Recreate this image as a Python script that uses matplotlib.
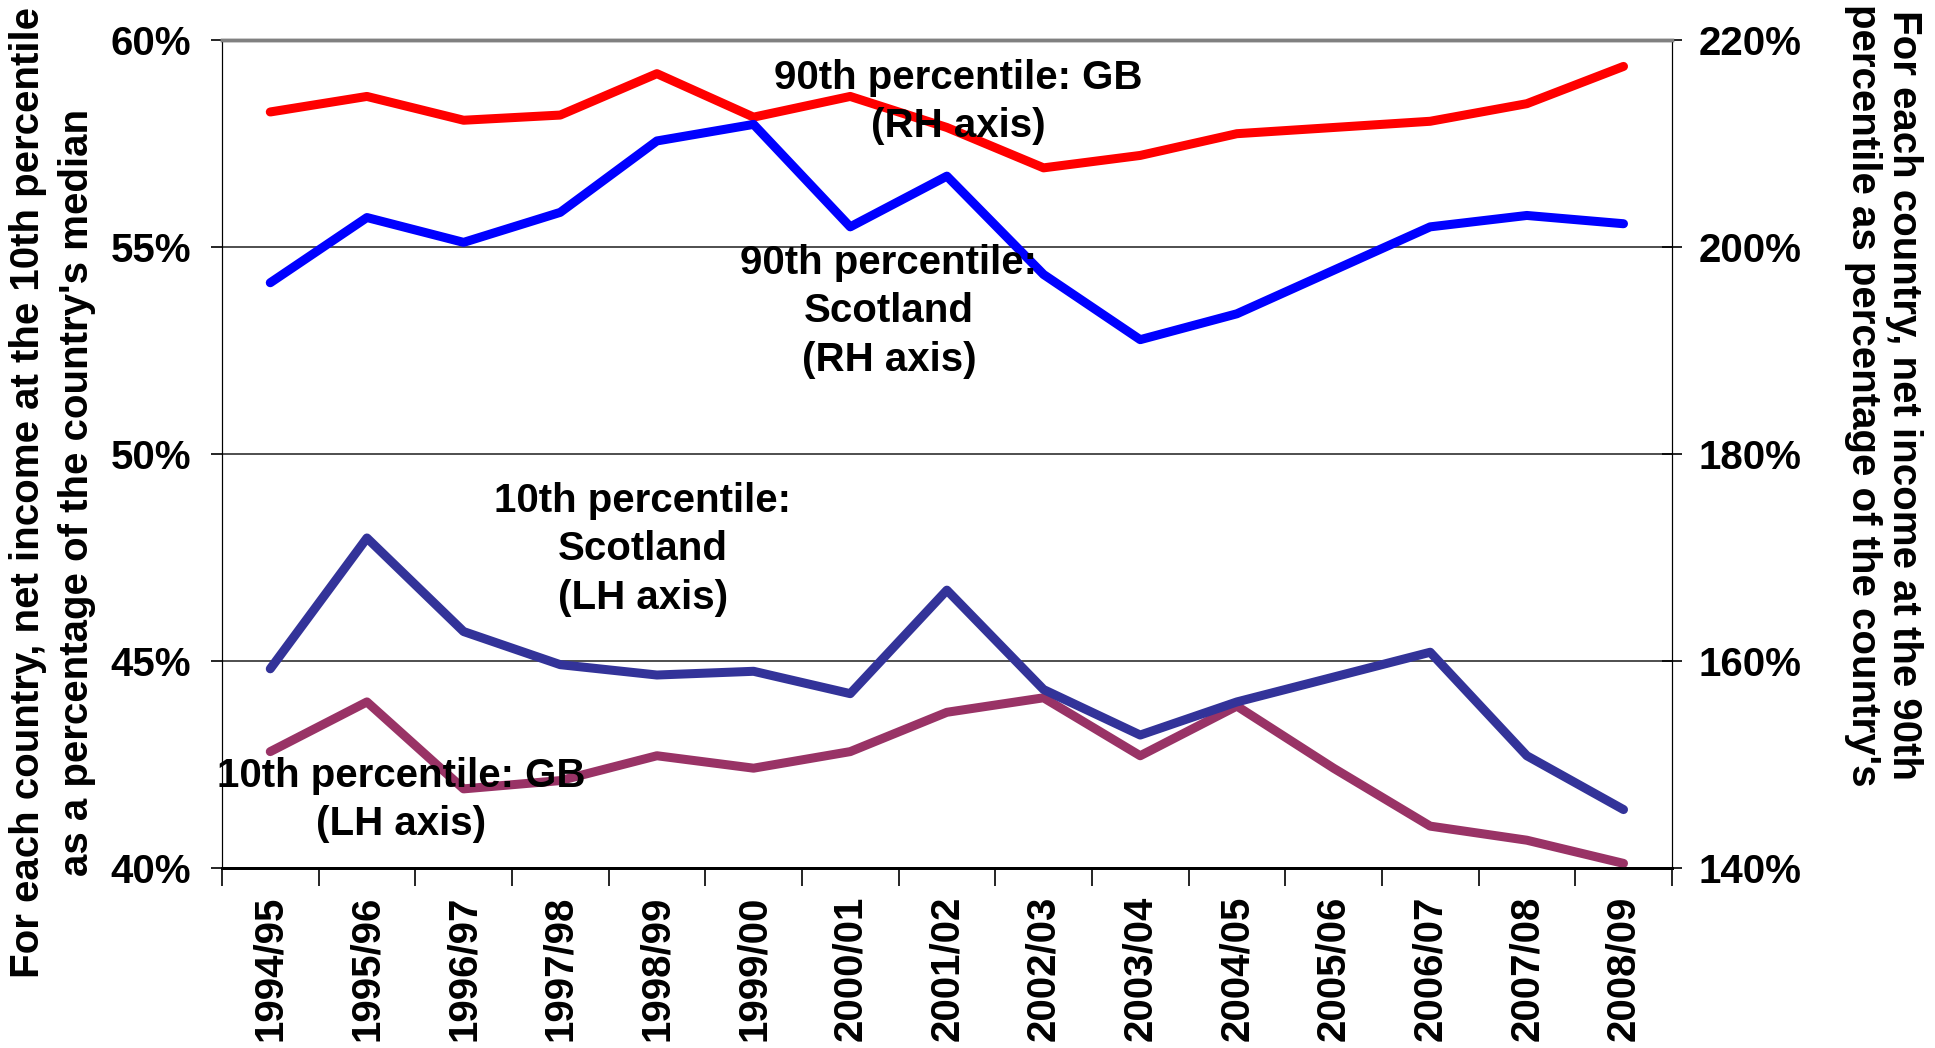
import matplotlib
matplotlib.use("Agg")

import numpy as np
import matplotlib.pyplot as plt
from matplotlib.ticker import FixedLocator, FuncFormatter

years = ["1994/95", "1995/96", "1996/97", "1997/98", "1998/99", "1999/00",
         "2000/01", "2001/02", "2002/03", "2003/04", "2004/05", "2005/06",
         "2006/07", "2007/08", "2008/09"]

# right-hand axis (% of median)
p90_gb = [213.0, 214.5, 212.2, 212.7, 216.7, 212.5, 214.5, 211.5,
          207.6, 208.8, 210.9, 211.5, 212.1, 213.8, 217.4]
p90_scotland = [196.5, 202.8, 200.4, 203.3, 210.2, 211.8, 201.9, 206.8,
                197.3, 191.0, 193.5, 197.7, 201.9, 203.0, 202.2]

# left-hand axis (% of median)
p10_scotland = [44.8, 47.96, 45.7, 44.9, 44.65, 44.74, 44.2, 46.7,
                44.3, 43.2, 44.0, 44.6, 45.2, 42.7, 41.4]
p10_gb = [42.8, 44.0, 41.9, 42.1, 42.7, 42.4, 42.8, 43.75,
          44.1, 42.7, 43.9, 42.4, 41.0, 40.66, 40.1]

left_ticks = [40, 45, 50, 55, 60]
right_ticks = [140, 160, 180, 200, 220]

plt.rcParams["font.family"] = ["Liberation Sans", "DejaVu Sans"]
plt.rcParams["font.weight"] = "bold"
FS = 29
LW = 6.5

fig = plt.figure(figsize=(19.35, 10.48), dpi=100)
ax = fig.add_axes([0.1147, 0.1722, 0.7493, 0.7901])
ax2 = ax.twinx()
ax2.set_zorder(ax.get_zorder() + 1)
ax2.patch.set_visible(False)

x = np.arange(len(years))

ax.plot(x, p10_gb, color="#993366", lw=LW, solid_capstyle="round", zorder=3)
ax.plot(x, p10_scotland, color="#333399", lw=LW, solid_capstyle="round", zorder=3)
ax2.plot(x, p90_gb, color="#FF0000", lw=LW, solid_capstyle="round", zorder=3)
ax2.plot(x, p90_scotland, color="#0000FF", lw=LW, solid_capstyle="round", zorder=3)

ax.set_xlim(-0.5, len(years) - 0.5)
ax.set_ylim(40, 60)
ax2.set_ylim(140, 220)

# left axis
ax.yaxis.set_major_locator(FixedLocator(left_ticks))
ax.yaxis.set_major_formatter(FuncFormatter(lambda v, p: f"{v:.0f}%"))
ax.tick_params(axis="y", direction="out", length=8, width=1.2, pad=14,
               labelsize=FS)
ax.grid(axis="y", color="#404040", lw=1.3)

# right axis
ax2.yaxis.set_major_locator(FixedLocator(right_ticks))
ax2.yaxis.set_major_formatter(FuncFormatter(lambda v, p: f"{v:.0f}%"))
ax2.tick_params(axis="y", direction="inout", length=14, width=1.2, pad=12,
                labelsize=FS)

# category axis: ticks between categories
ax.set_xticks(x)
ax.set_xticklabels(years, rotation=90, fontsize=FS, fontweight="bold")
ax.tick_params(axis="x", which="major", length=0, pad=20)
ax.set_xticks(np.arange(len(years) + 1) - 0.5, minor=True)
ax.tick_params(axis="x", which="minor", direction="out", length=13, width=1.2)

for a in (ax, ax2):
    a.spines["left"].set_color("black")
    a.spines["right"].set_color("black")
    a.spines["bottom"].set_linewidth(2)
    a.spines["top"].set_color("#808080")
    a.spines["top"].set_linewidth(2.5)
for lbl in ax.get_yticklabels() + ax2.get_yticklabels():
    lbl.set_fontweight("bold")

# series labels (drawn above the lines, positioned in left-axis units)
txt = dict(fontsize=FS, fontweight="bold", ha="center", va="center",
           multialignment="center", linespacing=1.35, zorder=10,
           transform=ax.transData)
ax2.text(7.12, 58.49, "90th percentile: GB\n(RH axis)", **txt)
ax2.text(6.40, 53.44, "90th percentile:\nScotland\n(RH axis)", **txt)
ax2.text(3.855, 47.69, "10th percentile:\nScotland\n(LH axis)", **txt)
ax2.text(1.35, 41.63, "10th percentile: GB\n(LH axis)", **txt)

# axis titles
fig.text(0.0271, 0.5305,
         "For each country, net income at the 10th percentile\n"
         "as a percentage of the country's median",
         rotation=90, ha="center", va="center", multialignment="center",
         fontsize=FS, fontweight="bold", linespacing=1.35)
fig.text(0.9736, 0.623,
         "For each country, net income at the 90th\n"
         "percentile as percentage of the country's",
         rotation=270, ha="center", va="center", multialignment="center",
         fontsize=FS, fontweight="bold", linespacing=1.1)

fig.savefig("out.png", dpi=100)
